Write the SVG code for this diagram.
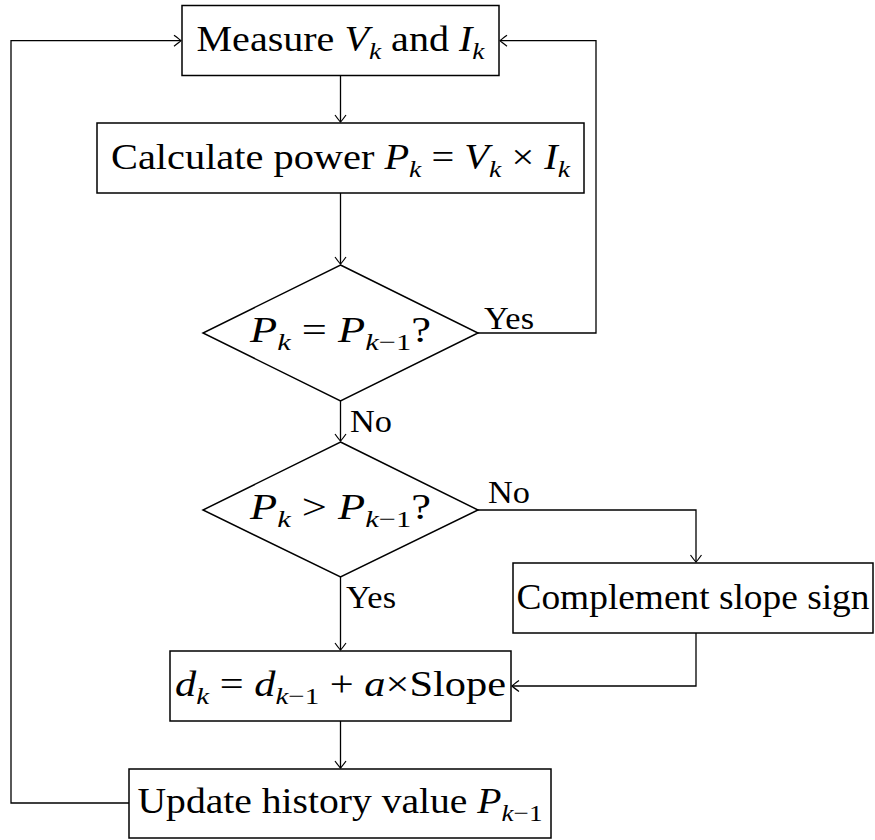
<svg xmlns="http://www.w3.org/2000/svg" width="875" height="840" viewBox="0 0 875 840">
<style>
.box{fill:#fff;stroke:#000;stroke-width:1.5}
.edge{fill:none;stroke:#000;stroke-width:1.3;marker-end:url(#arr)}
text{font-family:"Liberation Serif","Times New Roman",serif;font-size:35px;fill:#000}
.lbl{font-size:31px}
.m{font-style:italic}
.s{font-size:24px}
</style>
<defs>
<marker id="arr" markerUnits="userSpaceOnUse" markerWidth="14" markerHeight="14" viewBox="-8 -7 10 14" refX="0" refY="0" orient="auto">
<path d="M-7,-5.5 Q-1.5,-1.5 0,0 Q-1.5,1.5 -7,5.5" fill="none" stroke="#000" stroke-width="1.2"/>
</marker>
</defs>
<rect width="875" height="840" fill="#fff"/>
<g id="connectors">
<path class="edge" d="M340.5,75 V122"/>
<path class="edge" d="M340.5,193 V264"/>
<path class="edge" d="M478,333 H596 V40.7 H500"/>
<path class="edge" d="M340.5,401 V441"/>
<path class="edge" d="M478,510 H696 V562"/>
<path class="edge" d="M340.5,577 V650"/>
<path class="edge" d="M696,633 V686 H512"/>
<path class="edge" d="M340.5,721 V768"/>
<path class="edge" d="M129,803 H11 V40.7 H181"/>
<text class="lbl" x="484" y="329" textLength="50" lengthAdjust="spacingAndGlyphs">Yes</text>
<text class="lbl" x="350" y="432" textLength="42" lengthAdjust="spacingAndGlyphs">No</text>
<text class="lbl" x="488" y="503" textLength="42" lengthAdjust="spacingAndGlyphs">No</text>
<text class="lbl" x="346" y="608" textLength="50" lengthAdjust="spacingAndGlyphs">Yes</text>
</g>
<g id="n1">
<rect class="box" x="182" y="5.5" width="317" height="70"/>
<text x="340.5" y="51" text-anchor="middle" textLength="288" lengthAdjust="spacingAndGlyphs">Measure <tspan class="m">V</tspan><tspan class="s m" dy="8">k</tspan><tspan dy="-8"> and </tspan><tspan class="m">I</tspan><tspan class="s m" dy="8">k</tspan></text>
</g>
<g id="n2">
<rect class="box" x="97" y="123" width="487" height="70"/>
<text x="340.5" y="169" text-anchor="middle" textLength="459" lengthAdjust="spacingAndGlyphs">Calculate power <tspan class="m">P</tspan><tspan class="s m" dy="8">k</tspan><tspan dy="-8"> = </tspan><tspan class="m">V</tspan><tspan class="s m" dy="8">k</tspan><tspan dy="-8"> × </tspan><tspan class="m">I</tspan><tspan class="s m" dy="8">k</tspan></text>
</g>
<g id="d1">
<polygon class="box" points="340.5,265 478,333 340.5,401 203,333"/>
<text x="340.5" y="342" text-anchor="middle" textLength="181" lengthAdjust="spacingAndGlyphs"><tspan class="m">P</tspan><tspan class="s m" dy="8">k</tspan><tspan dy="-8"> = </tspan><tspan class="m">P</tspan><tspan class="s" dy="8"><tspan class="m">k</tspan>−1</tspan><tspan dy="-8">?</tspan></text>
</g>
<g id="d2">
<polygon class="box" points="340.5,442 478,510 340.5,577 203,510"/>
<text x="340.5" y="519" text-anchor="middle" textLength="181" lengthAdjust="spacingAndGlyphs"><tspan class="m">P</tspan><tspan class="s m" dy="8">k</tspan><tspan dy="-8"> &gt; </tspan><tspan class="m">P</tspan><tspan class="s" dy="8"><tspan class="m">k</tspan>−1</tspan><tspan dy="-8">?</tspan></text>
</g>
<g id="n3">
<rect class="box" x="513" y="563" width="360" height="70"/>
<text x="693" y="609" text-anchor="middle" textLength="353" lengthAdjust="spacingAndGlyphs">Complement slope sign</text>
</g>
<g id="n4">
<rect class="box" x="170" y="651" width="341" height="70"/>
<text x="340.5" y="696" text-anchor="middle" textLength="331" lengthAdjust="spacingAndGlyphs"><tspan class="m">d</tspan><tspan class="s m" dy="8">k</tspan><tspan dy="-8"> = </tspan><tspan class="m">d</tspan><tspan class="s" dy="8"><tspan class="m">k</tspan>−1</tspan><tspan dy="-8"> + </tspan><tspan class="m">a</tspan>×Slope</text>
</g>
<g id="n5">
<rect class="box" x="129" y="769" width="422" height="69"/>
<text x="340" y="813" text-anchor="middle" textLength="405" lengthAdjust="spacingAndGlyphs">Update history value <tspan class="m">P</tspan><tspan class="s" dy="8"><tspan class="m">k</tspan>−1</tspan></text>
</g>
</svg>
